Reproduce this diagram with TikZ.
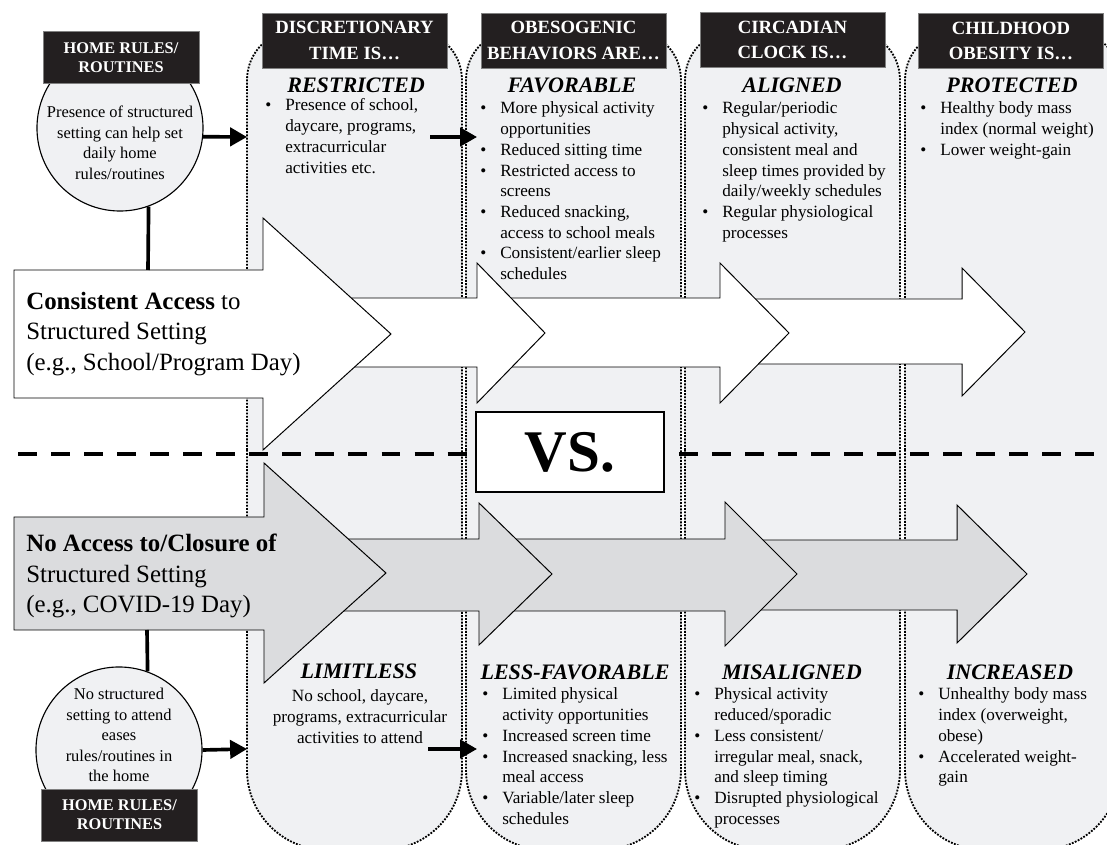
\documentclass[tikz,border=0pt]{standalone}
\usepackage{fontspec}
\setmainfont{Liberation Serif}
\usepackage{xcolor}
\usetikzlibrary{arrows.meta,positioning,calc}

\definecolor{colfill}{RGB}{240,241,243}
\definecolor{armgray}{RGB}{219,220,222}
\definecolor{hdrblack}{RGB}{35,31,32}

\newcommand{\itm}{\makebox[0.5cm][l]{\textbullet}}
\newcommand{\blist}[1]{\begin{tabular}[t]{@{}l@{}l@{}}#1\end{tabular}}
\newcommand{\clist}[1]{\begin{tabular}[t]{@{}c@{}}#1\end{tabular}}

\begin{document}
\begin{tikzpicture}[
  x=0.025cm, y=-0.025cm,
  colbox/.style={draw=black, fill=colfill, line width=1.3pt, densely dotted},
  header/.style={fill=hdrblack, draw=black!50, text=white, align=center, minimum width=4.625cm, minimum height=1.375cm, inner sep=0pt, font=\fontsize{13.3}{18}\selectfont\bfseries},
  homebox/.style={header, minimum width=3.9cm, minimum height=1.3cm, font=\fontsize{11.6}{13.5}\selectfont\bfseries},
  state/.style={anchor=base, inner sep=0pt, font=\fontsize{15.7}{18}\selectfont\bfseries\itshape},
  bodytxt/.style={anchor=base west, inner sep=0pt, font=\fontsize{12.2}{14.7}\selectfont},
  circtxt/.style={anchor=base, inner sep=0pt, font=\fontsize{11.7}{14.5}\selectfont},
  homecirc/.style={circle, draw, line width=0.8pt, fill=colfill, minimum size=4.15cm, inner sep=0pt},
  bigarrow/.style={draw, line width=0.7pt, line join=miter},
  armtxt/.style={anchor=west, inner sep=0pt, align=left, font=\fontsize{17.7}{21.5}\selectfont},
  link/.style={line width=2.6pt, -{Triangle[length=12pt,width=13pt]}},
  stem/.style={line width=2.6pt},
  divider/.style={line width=2.8pt, dash pattern=on 13.5pt off 10pt}
]
  \useasboundingbox (0,0) rectangle (1107,845);

  % Columns
  \foreach \cx in {247,466,685,905} {
    \draw[colbox] (\cx,450) -- (\cx,80) arc[start angle=180, end angle=270, radius=50]
      -- ({\cx+165},30) arc[start angle=270, end angle=360, radius=50]
      -- ({\cx+215},770) arc[start angle=0, end angle=90, radius=80]
      -- ({\cx+80},850) arc[start angle=90, end angle=180, radius=80] -- cycle;
  }

  % Divider
  \draw[divider] (18,454) -- (1107,454);

  % Column headers
  \node[header] (hdrTime) at (354.5,40.5) {DISCRETIONARY\\TIME IS…};
  \node[header] (hdrBeh) at (573.5,40.5) {OBESOGENIC\\BEHAVIORS ARE…};
  \node[header] (hdrClock) at (792.5,40) {CIRCADIAN\\CLOCK IS…};
  \node[header] (hdrObes) at (1011,41) {CHILDHOOD\\OBESITY IS…};

  % Upper arrows (structured setting)
  \draw[bigarrow, fill=white] (740,299) -- (962,299) -- (962,268) -- (1025,332) -- (962,396) -- (962,364) -- (740,364) -- cycle;
  \draw[bigarrow, fill=white] (497,298) -- (720,298) -- (720,263) -- (789,333) -- (720,403) -- (720,367) -- (497,367) -- cycle;
  \draw[bigarrow, fill=white] (283,298) -- (477,298) -- (477,263) -- (545,333) -- (477,403) -- (477,367) -- (283,367) -- cycle;
  \draw[bigarrow, fill=white] (14,270) -- (263,270) -- (263,218) -- (391,334) -- (263,450) -- (263,398) -- (14,398) -- cycle;

  % Lower arrows (no structured setting)
  \draw[bigarrow, fill=armgray] (745,540) -- (957,540) -- (957,505) -- (1027,574) -- (957,643) -- (957,610) -- (745,610) -- cycle;
  \draw[bigarrow, fill=armgray] (499,539) -- (725,539) -- (725,502) -- (797,574) -- (725,646) -- (725,611) -- (499,611) -- cycle;
  \draw[bigarrow, fill=armgray] (284,539) -- (479,539) -- (479,503) -- (552,574) -- (479,645) -- (479,611) -- (284,611) -- cycle;
  \draw[bigarrow, fill=armgray] (14,517) -- (264,517) -- (264,463) -- (386,573) -- (264,683) -- (264,630) -- (14,630) -- cycle;

  \node[armtxt] (accTxt) at (26,334) {\textbf{Consistent Access} to\\Structured Setting\\(e.g., School/Program Day)};
  \node[armtxt] (noTxt) at (26,576) {\textbf{No Access to/Closure of}\\Structured Setting\\(e.g., COVID-19 Day)};

  % VS box
  \node[draw, fill=white, line width=0.8pt, minimum width=4.7cm, minimum height=2cm, inner sep=0pt, font=\fontsize{42}{42}\selectfont\bfseries] (vs) at (570,452) {VS.};

  % Home rules
  \node[homecirc] (circA) at (120,128) {};
  \node[homebox] (homeA) at (121,57.5) {HOME RULES/\\ROUTINES};
  \node[circtxt] (circAtxt) at (120,118) {\clist{Presence of structured\\setting can help set\\daily home\\rules/routines}};
  \node[homecirc] (circB) at (119,750) {};
  \node[homebox] (homeB) at (119.5,815) {HOME RULES/\\ROUTINES};
  \node[circtxt] (circBtxt) at (119,700) {\clist{No structured\\setting to attend\\eases\\rules/routines in\\the home}};

  % Connectors
  \coordinate (accTop) at (148,270);
  \coordinate (noBot) at (147,630);
  \coordinate (col1A) at (247,137);
  \coordinate (col1B) at (247,749);
  \coordinate (restrOut) at (430,137);
  \coordinate (col2A) at (477,137);
  \coordinate (limOut) at (428,749);
  \coordinate (col2B) at (477,749);
  \draw[stem] (circA.-70) -- (accTop);
  \draw[stem] (noBot) -- (circB.70);
  \draw[link] (circA.-6) -- (col1A);
  \draw[link] (circB.east) -- (col1B);
  \draw[link] (restrOut) -- (col2A);
  \draw[link] (limOut) -- (col2B);

  % Upper states
  \node[state] (restricted) at (356,93) {RESTRICTED};
  \node[state] (favorable) at (572,93) {FAVORABLE};
  \node[state] (aligned) at (792,93) {ALIGNED};
  \node[state] (protected) at (1012,93) {PROTECTED};
  \node[bodytxt] (restrTxt) at (265,111) {\blist{\itm & Presence of school,\\ & daycare, programs,\\ & extracurricular\\ & activities etc.}};
  \node[bodytxt] (favTxt) at (480,114) {\blist{\itm & More physical activity\\ & opportunities\\ \itm & Reduced sitting time\\ \itm & Restricted access to\\ & screens\\ \itm & Reduced snacking,\\ & access to school meals\\ \itm & Consistent/earlier sleep\\ & schedules}};
  \node[bodytxt] (alignTxt) at (702,114) {\blist{\itm & Regular/periodic\\ & physical activity,\\ & consistent meal and\\ & sleep times provided by\\ & daily/weekly schedules\\ \itm & Regular physiological\\ & processes}};
  \node[bodytxt] (protTxt) at (920,114) {\blist{\itm & Healthy body mass\\ & index (normal weight)\\ \itm & Lower weight-gain}};

  % Lower states
  \node[state] (limitless) at (359,679) {LIMITLESS};
  \node[state] (lessfav) at (575,680) {LESS-FAVORABLE};
  \node[state] (misaligned) at (792,680) {MISALIGNED};
  \node[state] (increased) at (1010,680) {INCREASED};
  \node[bodytxt, anchor=base] (limTxt) at (360,702) {\clist{No school, daycare,\\programs, extracurricular\\activities to attend}};
  \node[bodytxt] (lessTxt) at (482,700) {\blist{\itm & Limited physical\\ & activity opportunities\\ \itm & Increased screen time\\ \itm & Increased snacking, less\\ & meal access\\ \itm & Variable/later sleep\\ & schedules}};
  \node[bodytxt] (misTxt) at (694,700) {\blist{\itm & Physical activity\\ & reduced/sporadic\\ \itm & Less consistent/\\ & irregular meal, snack,\\ & and sleep timing\\ \itm & Disrupted physiological\\ & processes}};
  \node[bodytxt] (incTxt) at (918,700) {\blist{\itm & Unhealthy body mass\\ & index (overweight,\\ & obese)\\ \itm & Accelerated weight-\\ & gain}};
\end{tikzpicture}
\end{document}
